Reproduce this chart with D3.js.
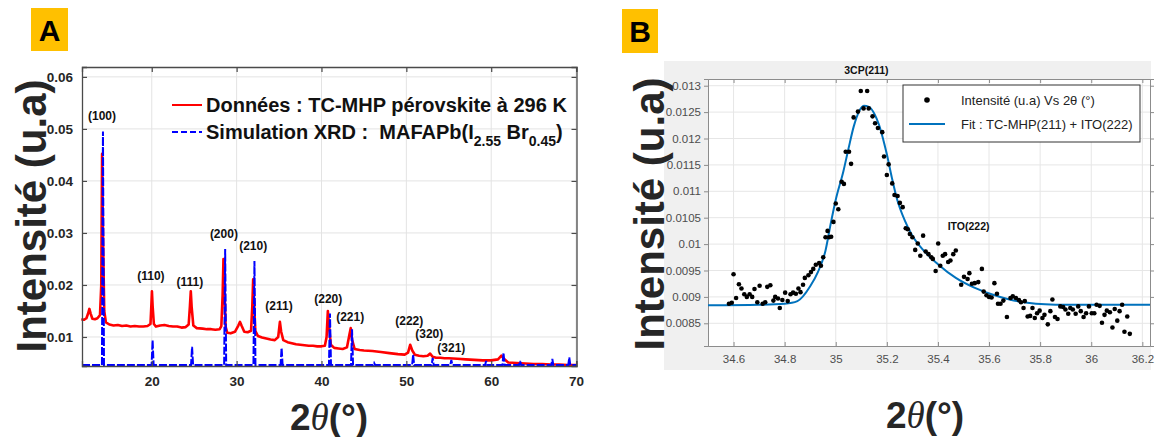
<!DOCTYPE html>
<html>
<head>
<meta charset="utf-8">
<script src="https://cdn.jsdelivr.net/npm/d3@7"></script>
<style>
  body { margin: 0; background: #fff; }
  svg { display: block; }
  text { font-family: Arial, "Liberation Sans", sans-serif; }
</style>
</head>
<body>
<svg id="chart" width="1159" height="437"></svg>
<script>
// ---------- Panel A : measured XRD pattern (2θ in degrees, intensity in a.u.) ----------
const measTheta = [11.7,12.0,12.3,12.5,12.65,12.8,13.0,13.3,13.6,13.9,14.05,14.15,14.25,14.4,14.6,15.0,15.5,16.0,16.5,17.0,17.5,18.0,18.5,19.0,19.5,19.85,19.95,20.02,20.1,20.25,20.5,21.0,21.5,22.0,22.5,23.0,23.5,24.0,24.35,24.5,24.6,24.7,24.9,25.3,26.0,26.5,27.0,27.5,28.0,28.2,28.35,28.45,28.55,28.7,28.9,29.3,29.8,30.2,30.4,30.6,30.9,31.3,31.7,31.85,31.95,32.05,32.2,32.5,33.0,33.5,34.0,34.5,34.9,35.1,35.25,35.5,36.0,36.5,37.0,37.5,38.0,38.5,39.0,39.5,40.0,40.4,40.6,40.75,40.9,41.1,41.5,42.0,42.5,43.0,43.3,43.45,43.6,43.9,44.5,45.0,46.0,47.0,48.0,49.0,49.8,50.2,50.45,50.7,51.0,51.5,52.0,52.5,52.8,53.1,53.5,54.0,54.5,55.0,56.0,57.0,58.0,59.0,60.0,60.8,61.2,61.5,62.0,63.0,64.0,65.0,66.0,67.0,68.0,69.0,70.0];
const measIntensity = [0.0134,0.0133,0.0136,0.0145,0.0154,0.0145,0.0135,0.0134,0.0136,0.0142,0.0200,0.0452,0.0300,0.0150,0.0128,0.0124,0.0122,0.0123,0.0121,0.0122,0.0120,0.0121,0.0120,0.0120,0.0121,0.0125,0.0160,0.0188,0.0160,0.0125,0.0120,0.0122,0.0123,0.0121,0.0120,0.0120,0.0118,0.0119,0.0124,0.0160,0.0188,0.0158,0.0122,0.0117,0.0116,0.0115,0.0115,0.0114,0.0115,0.0121,0.0180,0.0250,0.0200,0.0120,0.0108,0.0107,0.0110,0.0122,0.0129,0.0121,0.0110,0.0109,0.0112,0.0160,0.0211,0.0170,0.0112,0.0102,0.0099,0.0097,0.0095,0.0094,0.0100,0.0129,0.0110,0.0094,0.0090,0.0088,0.0086,0.0085,0.0084,0.0083,0.0083,0.0082,0.0082,0.0083,0.0100,0.0150,0.0120,0.0085,0.0079,0.0078,0.0077,0.0080,0.0105,0.0117,0.0095,0.0077,0.0075,0.0074,0.0073,0.0071,0.0069,0.0067,0.0066,0.0070,0.0085,0.0074,0.0066,0.0064,0.0063,0.0064,0.0068,0.0062,0.0060,0.0060,0.0059,0.0059,0.0058,0.0057,0.0056,0.0055,0.0055,0.0057,0.0064,0.0058,0.0051,0.0050,0.0049,0.0048,0.0048,0.0047,0.0047,0.0046,0.0046];

// simulated pattern: flat background plus one stick per reflection
const simBackground = 0.0046;
const simPeakTheta = [14.25,20.1,24.75,28.65,32.1,35.3,41.0,43.6,46.2,50.8,53.1,55.3,59.4,61.45,63.4,67.2,69.2];
const simPeakIntensity = [0.0495,0.0094,0.0081,0.0269,0.0246,0.0079,0.0145,0.0115,0.0050,0.0066,0.0060,0.0056,0.0054,0.0070,0.0054,0.0058,0.0061];

// Miller-index annotations
const hklLabels = ["(100)","(110)","(111)","(200)","(210)","(211)","(220)","(221)","(222)","(320)","(321)"];
const hklTheta  = [14.14,19.9,24.5,28.5,31.95,35.0,40.8,43.38,50.34,52.7,55.3];
const hklLevel  = [0.0525,0.0217,0.0206,0.0298,0.0275,0.0160,0.0173,0.0139,0.0131,0.0106,0.0079];

const ticksAx = [20,30,40,50,60,70];
const ticksAy = [0.01,0.02,0.03,0.04,0.05,0.06];

// ---------- Panel B : zoom on the (211) reflection ----------
const zoomTheta = [34.582,34.593,34.600,34.610,34.621,34.631,34.642,34.652,34.663,34.673,34.682,34.693,34.702,34.714,34.724,34.732,34.744,34.756,34.763,34.774,34.781,34.791,34.802,34.812,34.823,34.833,34.844,34.854,34.862,34.872,34.879,34.893,34.903,34.912,34.922,34.935,34.942,34.951,34.960,34.968,34.974,34.982,34.991,35.000,35.010,35.023,35.032,35.039,35.052,35.060,35.070,35.087,35.098,35.109,35.123,35.129,35.144,35.154,35.165,35.182,35.189,35.200,35.207,35.221,35.230,35.242,35.251,35.262,35.274,35.282,35.290,35.300,35.311,35.321,35.331,35.342,35.352,35.363,35.374,35.380,35.391,35.401,35.409,35.419,35.428,35.440,35.449,35.460,35.470,35.491,35.502,35.516,35.523,35.533,35.544,35.558,35.572,35.579,35.590,35.600,35.610,35.621,35.631,35.635,35.645,35.656,35.670,35.684,35.693,35.705,35.717,35.725,35.735,35.740,35.751,35.761,35.770,35.779,35.788,35.798,35.809,35.817,35.830,35.840,35.848,35.858,35.868,35.879,35.890,35.899,35.910,35.918,35.928,35.939,35.949,35.959,35.970,35.980,35.991,36.002,36.012,36.021,36.033,36.042,36.052,36.061,36.073,36.083,36.092,36.102,36.111,36.121,36.130,36.141,36.151];
const zoomIntensity = [0.00887,0.00889,0.00943,0.00898,0.00924,0.00916,0.00905,0.00900,0.00905,0.00900,0.00915,0.00890,0.00921,0.00887,0.00890,0.00919,0.00922,0.00893,0.00900,0.00897,0.00879,0.00894,0.00908,0.00892,0.00905,0.00908,0.00906,0.00916,0.00909,0.00923,0.00936,0.00941,0.00947,0.00953,0.00961,0.00964,0.00959,0.00975,0.01013,0.01025,0.01013,0.01014,0.01042,0.01077,0.01066,0.01118,0.01114,0.01175,0.01175,0.01152,0.01240,0.01251,0.01290,0.01257,0.01290,0.01257,0.01242,0.01229,0.01220,0.01212,0.01166,0.01131,0.01151,0.01115,0.01093,0.01091,0.01078,0.01070,0.01030,0.01028,0.01019,0.01013,0.00989,0.01001,0.00978,0.01016,0.00986,0.00981,0.00975,0.00972,0.00949,0.01001,0.00959,0.00978,0.00981,0.00966,0.00969,0.00981,0.00988,0.00923,0.00938,0.00934,0.00945,0.00925,0.00926,0.00928,0.00953,0.00910,0.00903,0.00900,0.00899,0.00926,0.00906,0.00887,0.00887,0.00893,0.00862,0.00898,0.00901,0.00898,0.00894,0.00890,0.00879,0.00892,0.00863,0.00864,0.00879,0.00860,0.00869,0.00874,0.00860,0.00866,0.00848,0.00873,0.00895,0.00862,0.00858,0.00882,0.00881,0.00876,0.00868,0.00879,0.00876,0.00868,0.00882,0.00873,0.00862,0.00869,0.00882,0.00869,0.00869,0.00885,0.00883,0.00851,0.00866,0.00874,0.00871,0.00842,0.00877,0.00855,0.00873,0.00885,0.00834,0.00863,0.00830];

// fitted profile TC-MHP(211) + ITO(222)
const fitTheta = [34.50,34.70,34.80,34.85,34.90,34.93,34.96,34.98,35.00,35.03,35.05,35.07,35.09,35.11,35.13,35.15,35.17,35.19,35.20,35.22,35.24,35.27,35.30,35.34,35.40,35.47,35.54,35.61,35.68,35.75,35.82,35.90,36.23];
const fitIntensity = [0.00884,0.00885,0.00887,0.00892,0.00920,0.00947,0.00988,0.01038,0.01084,0.01138,0.01181,0.01222,0.01250,0.01262,0.01260,0.01248,0.01225,0.01190,0.01170,0.01125,0.01085,0.01045,0.01016,0.00990,0.00962,0.00936,0.00918,0.00905,0.00895,0.00889,0.00886,0.00885,0.00885];

const ticksBx = [34.6,34.8,35,35.2,35.4,35.6,35.8,36,36.2];
const ticksBy = [0.0085,0.009,0.0095,0.01,0.0105,0.011,0.0115,0.012,0.0125,0.013];

const svg = d3.select("#chart");

// ---------------- Panel A ----------------
const xA = d3.scaleLinear().domain([11.78, 70.05]).range([82, 576.5]);
const yA = d3.scaleLinear().domain([0.00442, 0.0619]).range([366, 67]);
const gA = svg.append("g");

// grid
gA.append("g").selectAll("line.gx").data(ticksAx).join("line")
  .attr("x1", d => xA(d)).attr("x2", d => xA(d)).attr("y1", 67).attr("y2", 366)
  .attr("stroke", "#e3e3e3").attr("stroke-width", 1);
gA.append("g").selectAll("line.gy").data(ticksAy).join("line")
  .attr("x1", 82).attr("x2", 576.5).attr("y1", d => yA(d)).attr("y2", d => yA(d))
  .attr("stroke", "#e3e3e3").attr("stroke-width", 1);

// measured curve
const measPts = measTheta.map((t, i) => [t, measIntensity[i]]);
gA.append("path").datum(measPts)
  .attr("fill", "none").attr("stroke", "#ff0000").attr("stroke-width", 2.6)
  .attr("stroke-linejoin", "round")
  .attr("d", d3.line().x(d => xA(d[0])).y(d => yA(d[1])));

// simulated sticks on the flat background
const simPts = [[11.78, simBackground]];
simPeakTheta.forEach((t, i) => {
  simPts.push([t - 0.12, simBackground], [t, simPeakIntensity[i]], [t + 0.12, simBackground]);
});
simPts.push([70.05, simBackground]);
gA.append("path").datum(simPts)
  .attr("fill", "none").attr("stroke", "#0000ff").attr("stroke-width", 2)
  .attr("stroke-dasharray", "8,2")
  .attr("d", d3.line().x(d => xA(d[0])).y(d => yA(d[1])));

// axes box with inward ticks
const axA = gA.append("g");
const bottomA = axA.append("g").attr("transform", "translate(0,366)")
  .call(d3.axisBottom(xA).tickValues(ticksAx).tickSize(-5).tickPadding(10).tickFormat(d3.format("d")));
const topA = axA.append("g").attr("transform", "translate(0,67)")
  .call(d3.axisTop(xA).tickValues(ticksAx).tickSize(-5).tickFormat(""));
const leftA = axA.append("g").attr("transform", "translate(82,0)")
  .call(d3.axisLeft(yA).tickValues(ticksAy).tickSize(-5).tickPadding(9).tickFormat(d3.format(".2f")));
const rightA = axA.append("g").attr("transform", "translate(576.5,0)")
  .call(d3.axisRight(yA).tickValues(ticksAy).tickSize(-5).tickFormat(""));
[bottomA, topA, leftA, rightA].forEach(g => {
  g.select(".domain").attr("stroke", "#4a4a4a").attr("stroke-width", 1.3);
  g.selectAll(".tick line").attr("stroke", "#4a4a4a").attr("stroke-width", 1.2);
  g.selectAll(".tick text").attr("font-size", 13.5).attr("font-weight", "bold").attr("fill", "#262626")
    .attr("font-family", "Arial, 'Liberation Sans', sans-serif");
});

// hkl annotations
gA.append("g").selectAll("text").data(hklLabels).join("text")
  .attr("x", (d, i) => xA(hklTheta[i])).attr("y", (d, i) => yA(hklLevel[i]))
  .attr("dy", "0.35em").attr("text-anchor", "middle")
  .attr("font-size", 12).attr("font-weight", "bold").attr("fill", "#111")
  .text(d => d);

// legend
const legA = gA.append("g").attr("font-weight", "bold").attr("fill", "#111");
legA.append("line").attr("x1", 172).attr("x2", 202).attr("y1", 105).attr("y2", 105)
  .attr("stroke", "#ff0000").attr("stroke-width", 2);
legA.append("text").attr("x", 206).attr("y", 112).attr("font-size", 20)
  .text("Données : TC-MHP pérovskite à 296 K");
legA.append("line").attr("x1", 172).attr("x2", 202).attr("y1", 132).attr("y2", 132)
  .attr("stroke", "#0000ff").attr("stroke-width", 2).attr("stroke-dasharray", "6,3");
const simLeg = legA.append("text").attr("x", 206).attr("y", 139).attr("font-size", 20)
  .attr("xml:space", "preserve").style("white-space", "pre");
simLeg.append("tspan").text("Simulation XRD :  MAFAPb(I");
simLeg.append("tspan").attr("font-size", 14).attr("dy", 7).text("2.55");
simLeg.append("tspan").attr("dy", -7).text(" Br");
simLeg.append("tspan").attr("font-size", 14).attr("dy", 7).text("0.45");
simLeg.append("tspan").attr("dy", -7).text(")");

// axis titles
gA.append("text").attr("transform", "translate(46,216) rotate(-90)")
  .attr("text-anchor", "middle").attr("font-size", 42).attr("font-weight", "bold").attr("fill", "#262626")
  .text("Intensité (u.a)");
const xtA = gA.append("text").attr("x", 329).attr("y", 430).attr("text-anchor", "middle")
  .attr("font-size", 37).attr("font-weight", "bold").attr("fill", "#262626");
xtA.append("tspan").text("2");
xtA.append("tspan").attr("font-family", "'Liberation Serif', serif").attr("font-style", "italic").attr("font-weight", "normal").text("θ");
xtA.append("tspan").text("(°)");

// panel tag
gA.append("rect").attr("x", 31).attr("y", 8).attr("width", 37).attr("height", 43).attr("fill", "#ffc000");
gA.append("text").attr("x", 49.5).attr("y", 41).attr("text-anchor", "middle")
  .attr("font-size", 30).attr("font-weight", "bold").attr("fill", "#000").text("A");

// ---------------- Panel B ----------------
const xB = d3.scaleLinear().domain([34.5, 36.23]).range([708, 1150]);
const yB = d3.scaleLinear().domain([0.00807, 0.013127]).range([346, 79]);
const gB = svg.append("g");

gB.append("rect").attr("x", 664).attr("y", 61).attr("width", 487).attr("height", 309).attr("fill", "#f0f0f0");
gB.append("rect").attr("x", 708).attr("y", 79).attr("width", 442).attr("height", 267).attr("fill", "#fff");

gB.append("g").selectAll("line").data(ticksBx).join("line")
  .attr("x1", d => xB(d)).attr("x2", d => xB(d)).attr("y1", 79).attr("y2", 346)
  .attr("stroke", "#e6e6e6");
gB.append("g").selectAll("line").data(ticksBy).join("line")
  .attr("x1", 708).attr("x2", 1150).attr("y1", d => yB(d)).attr("y2", d => yB(d))
  .attr("stroke", "#e6e6e6");

const fmtB = d => String(+d.toFixed(4));
const bottomB = gB.append("g").attr("transform", "translate(0,346)")
  .call(d3.axisBottom(xB).tickValues(ticksBx).tickSize(-4).tickPadding(9).tickFormat(fmtB));
const topB = gB.append("g").attr("transform", "translate(0,79)")
  .call(d3.axisTop(xB).tickValues(ticksBx).tickSize(-4).tickFormat(""));
const leftB = gB.append("g").attr("transform", "translate(708,0)")
  .call(d3.axisLeft(yB).tickValues(ticksBy).tickSize(4).tickPadding(3).tickFormat(fmtB));
const rightB = gB.append("g").attr("transform", "translate(1150,0)")
  .call(d3.axisRight(yB).tickValues(ticksBy).tickSize(4).tickFormat(""));
[bottomB, topB, leftB, rightB].forEach(g => {
  g.select(".domain").attr("stroke", "#8c8c8c").attr("stroke-width", 1);
  g.selectAll(".tick line").attr("stroke", "#8c8c8c");
  g.selectAll(".tick text").attr("font-size", 11.5).attr("fill", "#4d4d4d")
    .attr("font-family", "Arial, 'Liberation Sans', sans-serif");
});

// fit curve
const fitPts = fitTheta.map((t, i) => [t, fitIntensity[i]]);
gB.append("path").datum(fitPts)
  .attr("fill", "none").attr("stroke", "#0072bd").attr("stroke-width", 2)
  .attr("d", d3.line().curve(d3.curveMonotoneX).x(d => xB(d[0])).y(d => yB(d[1])));

// measured points
gB.append("g").selectAll("circle").data(zoomTheta).join("circle")
  .attr("cx", d => xB(d)).attr("cy", (d, i) => yB(zoomIntensity[i])).attr("r", 2.3)
  .attr("fill", "#000");

// annotations
gB.append("text").attr("x", xB(35.12)).attr("y", 74).attr("text-anchor", "middle")
  .attr("font-family", "'Open Sans', 'Noto Sans', sans-serif")
  .attr("font-size", 10.5).attr("font-weight", "bold").attr("fill", "#111").text("3CP(211)");
gB.append("text").attr("x", xB(35.52)).attr("y", yB(0.01034)).attr("dy", "0.35em").attr("text-anchor", "middle")
  .attr("font-family", "'Open Sans', 'Noto Sans', sans-serif")
  .attr("font-size", 10.5).attr("font-weight", "bold").attr("fill", "#111").text("ITO(222)");

// legend
const legB = gB.append("g").attr("font-family", "'Open Sans', 'Noto Sans', sans-serif").attr("font-size", 13).attr("fill", "#222");
legB.append("rect").attr("x", 903).attr("y", 85).attr("width", 237).attr("height", 57)
  .attr("fill", "#fff").attr("stroke", "#333").attr("stroke-width", 1);
legB.append("circle").attr("cx", 927).attr("cy", 100).attr("r", 2.8).attr("fill", "#000");
legB.append("text").attr("x", 961).attr("y", 104.5).text("Intensité (u.a) Vs 2θ (°)");
legB.append("line").attr("x1", 909).attr("x2", 945).attr("y1", 124).attr("y2", 124)
  .attr("stroke", "#0072bd").attr("stroke-width", 2);
legB.append("text").attr("x", 961).attr("y", 128.5).text("Fit : TC-MHP(211) + ITO(222)");

// axis titles
gB.append("text").attr("transform", "translate(664,214) rotate(-90)")
  .attr("text-anchor", "middle").attr("font-size", 42).attr("font-weight", "bold").attr("fill", "#262626")
  .text("Intensité (u.a)");
const xtB = gB.append("text").attr("x", 925).attr("y", 428).attr("text-anchor", "middle")
  .attr("font-size", 37).attr("font-weight", "bold").attr("fill", "#262626");
xtB.append("tspan").text("2");
xtB.append("tspan").attr("font-family", "'Liberation Serif', serif").attr("font-style", "italic").attr("font-weight", "normal").text("θ");
xtB.append("tspan").text("(°)");

gB.append("rect").attr("x", 622).attr("y", 9).attr("width", 36).attr("height", 44).attr("fill", "#ffc000");
gB.append("text").attr("x", 640).attr("y", 42).attr("text-anchor", "middle")
  .attr("font-size", 30).attr("font-weight", "bold").attr("fill", "#000").text("B");
</script>
</body>
</html>
